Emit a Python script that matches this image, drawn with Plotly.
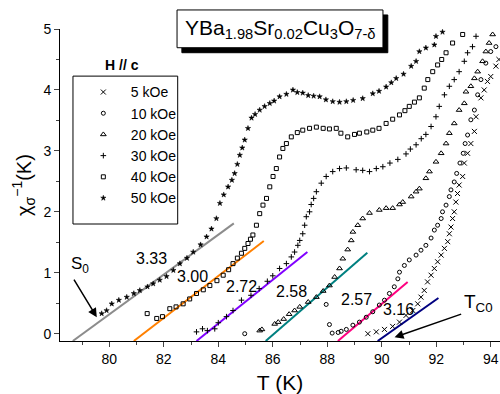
import plotly.graph_objects as go

# ---------------- data ----------------
T_5 = [89.49, 89.8, 90.1, 90.4, 90.65, 90.89, 91.14, 91.32, 91.44, 91.56, 91.68, 91.81, 91.93,
       92.05, 92.18, 92.3, 92.42, 92.48, 92.54, 92.6, 92.66, 92.72, 92.78, 92.84, 92.97, 93.03,
       93.15, 93.27, 93.4, 93.46, 93.64, 93.76, 93.88, 94.0, 94.19, 94.3]
Y_5 = [0.0, 0.03, 0.07, 0.12, 0.19, 0.30, 0.38, 0.49, 0.60, 0.71, 0.85, 0.96, 1.07,
       1.18, 1.29, 1.40, 1.51, 1.64, 1.75, 1.89, 2.0, 2.16, 2.30, 2.44, 2.58, 2.80,
       2.96, 3.12, 3.32, 3.56, 3.87, 4.0, 4.14, 4.22, 4.39, 4.5]

T_10 = [84.97, 87.96, 88.08, 88.18, 88.4, 88.51, 88.7, 88.94, 89.18, 89.43, 89.67, 89.91, 90.1,
        90.28, 90.46, 90.59, 90.65, 90.83, 91.01, 91.26, 91.44, 91.62, 91.81, 91.93, 92.05,
        92.18, 92.23, 92.36, 92.48, 92.54, 92.66, 92.75, 92.87, 92.99, 93.06, 93.15, 93.27,
        93.4, 93.52, 93.64, 93.82, 94.0, 94.19]
Y_10 = [0.0, 0.48, 0.15, 0.01, 0.02, 0.04, 0.07, 0.14, 0.19, 0.27, 0.36, 0.47, 0.55,
        0.66, 0.77, 0.90, 1.01, 1.12, 1.21, 1.29, 1.37, 1.45, 1.57, 1.70, 1.78,
        1.89, 2.00, 2.11, 2.25, 2.36, 2.49, 2.63, 2.80, 2.96, 3.12, 3.26, 3.51,
        3.67, 3.92, 4.17, 4.44, 4.63, 4.71]

T_20 = [85.52, 85.6, 86.07, 86.2, 86.4, 86.6, 86.8, 86.99, 87.3, 87.6, 87.85, 88.08, 88.27,
        88.45, 88.57, 88.75, 88.88, 88.94, 89.12, 89.3, 89.55, 89.91, 90.16, 90.4, 90.65,
        90.77, 91.08, 91.26, 91.38, 91.62, 91.75, 91.99, 92.18, 92.36, 92.48, 92.66, 92.84,
        93.03, 93.09, 93.27, 93.4, 93.52, 93.7, 93.82, 93.94, 94.07]
Y_20 = [0.05, 0.07, 0.16, 0.19, 0.24, 0.32, 0.38, 0.44, 0.52, 0.60, 0.70, 0.79, 0.93,
        1.07, 1.23, 1.38, 1.53, 1.67, 1.78, 1.89, 1.98, 2.03, 2.06, 2.06, 2.12,
        2.16, 2.25, 2.33, 2.38, 2.55, 2.66, 2.82, 2.96, 3.12, 3.29, 3.45, 3.67,
        3.78, 3.97, 4.06, 4.19, 4.30, 4.47, 4.63, 4.77, 4.91]

T_30 = [83.2, 83.42, 83.6, 83.87, 84.0, 84.3, 84.54, 84.85, 85.2, 85.5, 85.8, 86.0, 86.25,
        86.5, 86.68, 86.8, 86.92, 86.99, 87.1, 87.17, 87.23, 87.35, 87.41, 87.5, 87.6, 87.78,
        87.96, 88.2, 88.45, 88.7, 89.06, 89.3, 89.55, 89.8, 90.04, 90.3, 90.59, 90.89, 91.05,
        91.26, 91.45, 91.62, 91.81, 91.99, 92.11, 92.3, 92.48, 92.66, 92.84, 93.03, 93.15,
        93.33, 93.46]
Y_30 = [0.03, 0.08, 0.05, 0.08, 0.18, 0.28, 0.38, 0.55, 0.63, 0.74, 0.86, 0.95, 1.07,
        1.15, 1.26, 1.34, 1.45, 1.53, 1.64, 1.78, 1.92, 2.0, 2.12, 2.22, 2.33, 2.47,
        2.58, 2.66, 2.71, 2.72, 2.69, 2.68, 2.66, 2.71, 2.74, 2.80, 2.86, 2.95, 3.03,
        3.10, 3.20, 3.27, 3.40, 3.56, 3.73, 3.92, 4.06, 4.17, 4.30, 4.47, 4.61,
        4.71, 4.88]

T_40 = [81.39, 81.74, 81.95, 82.22, 82.45, 82.71, 82.95, 83.2, 83.45, 83.69, 83.95, 84.18,
        84.38, 84.54, 84.7, 84.85, 84.97, 85.09, 85.18, 85.27, 85.4, 85.52, 85.64, 85.77,
        85.89, 86.01, 86.13, 86.25, 86.37, 86.5, 86.68, 86.9, 87.1, 87.35, 87.6, 87.85,
        88.08, 88.33, 88.5, 88.75, 89.0, 89.18, 89.45, 89.67, 89.9, 90.16, 90.4, 90.65,
        90.85, 91.01, 91.2, 91.38, 91.56, 91.69, 91.87, 92.05, 92.2, 92.36, 92.6, 92.97]
Y_40 = [0.33, 0.25, 0.28, 0.41, 0.44, 0.49, 0.57, 0.66, 0.72, 0.79, 0.87, 0.96,
        1.05, 1.15, 1.24, 1.32, 1.40, 1.48, 1.55, 1.62, 1.78, 1.97, 2.11, 2.22,
        2.41, 2.58, 2.71, 2.90, 3.04, 3.12, 3.23, 3.30, 3.34, 3.37, 3.39, 3.37,
        3.36, 3.37, 3.29, 3.23, 3.27, 3.29, 3.31, 3.34, 3.37, 3.45, 3.52, 3.59,
        3.66, 3.73, 3.80, 3.87, 4.03, 4.17, 4.30, 4.41, 4.50, 4.61, 4.77, 4.91]

T_50 = [79.72, 79.9, 80.09, 80.35, 80.64, 80.9, 81.12, 81.4, 81.61, 81.85, 82.1, 82.35,
        82.59, 82.85, 83.08, 83.35, 83.57, 83.75, 83.93, 84.06, 84.2, 84.36, 84.5, 84.6,
        84.7, 84.79, 84.88, 84.97, 85.09, 85.22, 85.35, 85.52, 85.7, 85.89, 86.05, 86.25,
        86.5, 86.74, 86.9, 87.1, 87.3, 87.5, 87.72, 87.95, 88.2, 88.45, 88.7, 88.95, 89.3,
        89.67, 89.9, 90.16, 90.35, 90.53, 90.8, 91.08, 91.26, 91.38, 91.62, 91.93, 91.99, 92.23]
Y_50 = [0.33, 0.38, 0.49, 0.55, 0.60, 0.66, 0.71, 0.77, 0.82, 0.88, 0.94, 1.04,
        1.15, 1.24, 1.34, 1.46, 1.59, 1.72, 1.89, 2.14, 2.28, 2.41, 2.52, 2.63,
        2.78, 2.93, 3.05, 3.18, 3.37, 3.54, 3.60, 3.67, 3.73, 3.78, 3.82, 3.89,
        3.93, 4.00, 3.96, 3.95, 3.91, 3.90, 3.89, 3.84, 3.81, 3.80, 3.81, 3.83, 3.86,
        3.94, 3.98, 4.05, 4.12, 4.19, 4.26, 4.39, 4.47, 4.63, 4.69, 4.74, 4.88, 4.95]

series_names = ["5 kOe", "10 kOe", "20 kOe", "30 kOe", "40 kOe", "50 kOe"]
series_T = [T_5, T_10, T_20, T_30, T_40, T_50]
series_Y = [Y_5, Y_10, Y_20, Y_30, Y_40, Y_50]

# linear fits (start / end points) and their labels
fit_T0 = [78.66, 80.9, 83.2, 85.74, 88.39, 89.85]
fit_Y0 = [-0.12, -0.12, -0.12, -0.12, -0.12, -0.12]
fit_T1 = [84.57, 85.67, 87.27, 89.47, 90.95, 92.08]
fit_Y1 = [1.81, 1.52, 1.34, 1.33, 0.85, 0.585]
fit_labels = ["3.33", "3.00", "2.72", "2.58", "2.57", "3.16"]
label_T = [81.55, 83.05, 84.85, 86.68, 89.06, 90.62]
label_Y = [1.23, 0.94, 0.78, 0.70, 0.56, 0.40]

x_ticks = [80, 82, 84, 86, 88, 90, 92, 94]
y_ticks = [0, 1, 2, 3, 4, 5]

# ---------------- styles ----------------
FONT = "Arial, Liberation Sans, sans-serif"
symbols = ["x-thin-open", "circle-open", "triangle-up-open", "cross-thin-open", "square-open", "star"]
msizes = [5, 4, 5, 4, 4, 4]
mlines = [1, 1, 1, 1, 1, 0.5]
fit_colors = ["#8c8c8c", "#ff8000", "#8000ff", "#008080", "#ff0080", "#000080"]

fig = go.Figure()

for c, T0, Y0, T1, Y1 in zip(fit_colors, fit_T0, fit_Y0, fit_T1, fit_Y1):
    fig.add_trace(go.Scatter(x=[T0, T1], y=[Y0, Y1], mode="lines",
                             line=dict(color=c, width=2), showlegend=False, hoverinfo="skip"))

for name, T, Y, s, ms, lw in zip(series_names, series_T, series_Y, symbols, msizes, mlines):
    fig.add_trace(go.Scatter(x=T, y=Y, mode="markers", name=name,
                             marker=dict(symbol=s, size=ms, color="black",
                                         line=dict(color="black", width=lw))))

annotations = []
for lab, tx, ty in zip(fit_labels, label_T, label_Y):
    annotations.append(dict(x=tx, y=ty, xref="x", yref="y", text=lab, showarrow=False,
                            xanchor="center", yanchor="middle",
                            font=dict(family=FONT, size=16, color="black")))

# S0 with arrow
annotations.append(dict(x=78.93, y=1.12, xref="x", yref="y", text="S<sub>0</sub>", showarrow=False,
                        xanchor="center", yanchor="middle",
                        font=dict(family=FONT, size=17, color="black")))
annotations.append(dict(x=79.54, y=0.27, ax=78.67, ay=0.91, xref="x", yref="y", axref="x", ayref="y",
                        text="", showarrow=True, arrowhead=2, arrowsize=1.2, arrowwidth=1.5,
                        arrowcolor="black"))
# Tc0 with arrow
annotations.append(dict(x=93.55, y=0.5, xref="x", yref="y", text="T<sub>C0</sub>", showarrow=False,
                        xanchor="center", yanchor="middle",
                        font=dict(family=FONT, size=19, color="black")))
annotations.append(dict(x=90.47, y=-0.06, ax=92.97, ay=0.33, xref="x", yref="y", axref="x", ayref="y",
                        text="", showarrow=True, arrowhead=2, arrowsize=1.2, arrowwidth=1.5,
                        arrowcolor="black"))
# legend title
annotations.append(dict(x=0.141, y=0.885, xref="paper", yref="paper", text="<b>H // c</b>",
                        xanchor="center", yanchor="middle",
                        showarrow=False, font=dict(family=FONT, size=14, color="black")))
# compound title
annotations.append(dict(x=0.5, y=1.0, xref="paper", yref="paper",
                        text="YBa<sub>1.98</sub>Sr<sub>0.02</sub>Cu<sub>3</sub>O<sub>7-δ</sub>",
                        xanchor="center", yanchor="middle",
                        showarrow=False, font=dict(family=FONT, size=21, color="black")))

shapes = [
    # legend frame
    dict(type="rect", xref="paper", yref="paper", x0=0.0295, x1=0.2675, y0=0.375, y1=0.849,
         fillcolor="white", line=dict(color="black", width=1), layer="below"),
    # title box with shadow
    dict(type="rect", xref="paper", yref="paper", x0=0.277, x1=0.745, y0=0.924, y1=1.045,
         fillcolor="black", line=dict(color="black", width=1), layer="above"),
    dict(type="rect", xref="paper", yref="paper", x0=0.266, x1=0.734, y0=0.940, y1=1.061,
         fillcolor="white", line=dict(color="black", width=1), layer="above"),
]

fig.update_layout(
    width=500, height=394,
    margin=dict(l=60, r=0, t=29, b=53),
    paper_bgcolor="white", plot_bgcolor="white",
    font=dict(family=FONT, size=14, color="black"),
    showlegend=True,
    legend=dict(x=0.036, y=0.848, xanchor="left", yanchor="top",
                borderwidth=0, bgcolor="rgba(0,0,0,0)",
                font=dict(family=FONT, size=14, color="black"), itemwidth=45,
                tracegroupgap=0),
    annotations=annotations,
    shapes=shapes,
    xaxis=dict(range=[78.19, 94.34], tickvals=x_ticks, ticks="outside", ticklen=5, tickwidth=1,
               showline=True, linecolor="black", linewidth=1, showgrid=False, zeroline=False,
               minor=dict(dtick=1, ticks="outside", ticklen=3, tickwidth=1, showgrid=False),
               tickfont=dict(family=FONT, size=14),
               title=dict(text="T (K)", font=dict(family=FONT, size=21), standoff=11)),
    xaxis2=dict(range=[78.19, 94.34], overlaying="x", side="top", anchor="y", matches="x",
                tickvals=x_ticks, ticks="inside", ticklen=5, showticklabels=False,
                showline=True, linecolor="black", linewidth=1, showgrid=False, zeroline=False,
                minor=dict(dtick=1, ticks="inside", ticklen=3, showgrid=False)),
    yaxis=dict(range=[-0.12, 5], tickvals=y_ticks, ticks="outside", ticklen=5, tickwidth=1,
               showline=True, linecolor="black", linewidth=1, showgrid=False, zeroline=False,
               minor=dict(dtick=0.5, ticks="outside", ticklen=3, tickwidth=1, showgrid=False),
               tickfont=dict(family=FONT, size=14),
               title=dict(text="χ<sub>σ</sub><sup>−1</sup>(K)", font=dict(family=FONT, size=20),
                          standoff=6)),
)

fig.write_html("out.html", config={"displayModeBar": False},
               post_script="document.body.style.margin='0';")
